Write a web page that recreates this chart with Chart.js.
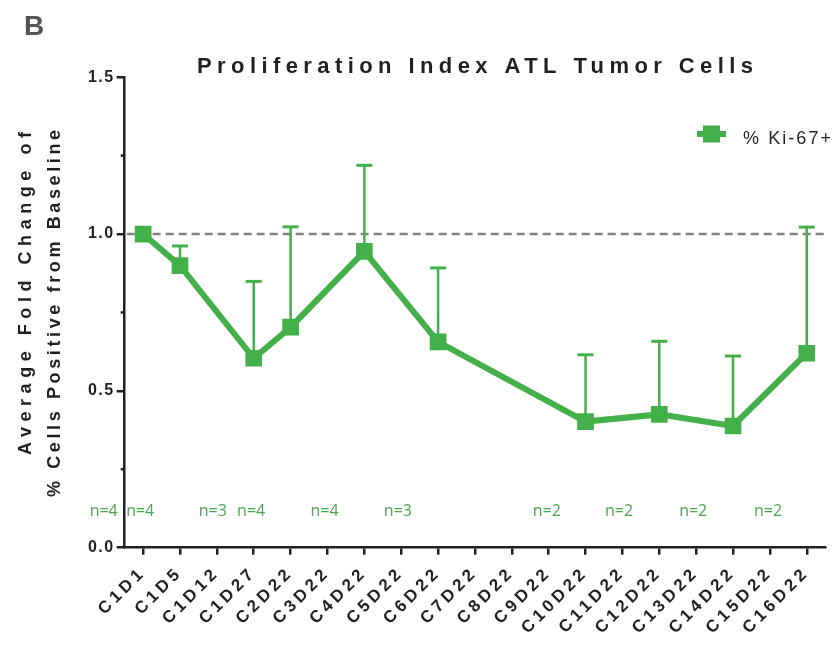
<!DOCTYPE html>
<html><head><meta charset="utf-8">
<script src="https://cdn.jsdelivr.net/npm/chart.js@4.4.1/dist/chart.umd.min.js"></script>
<style>html,body{margin:0;padding:0;background:#fff;} canvas{display:block;}</style>
</head><body>
<canvas id="c" width="837" height="646"></canvas>
<script>
const panelLetter = 'B';
const chartTitle = 'Proliferation Index ATL Tumor Cells';
const yTitleLines = ['Average Fold Change of', '% Cells Positive from Baseline'];
const seriesName = '% Ki-67+';
const categories = ['C1D1','C1D5','C1D12','C1D27','C2D22','C3D22','C4D22','C5D22','C6D22','C7D22','C8D22','C9D22','C10D22','C11D22','C12D22','C13D22','C14D22','C15D22','C16D22'];
const meanValues = [1.0, 0.899, null, 0.604, 0.703, null, 0.945, null, 0.656, null, null, null, 0.402, null, 0.425, null, 0.388, null, 0.620];
const errorValues = [0, 0.063, null, 0.245, 0.320, null, 0.274, null, 0.236, null, null, null, 0.213, null, 0.233, null, 0.223, null, 0.402];
const yTickValues = [0, 0.5, 1.0, 1.5];
const yMinorTickValues = [0.25, 0.75, 1.25];
const baselineValue = 1.0;
const nLabels = ['n=4','n=4','n=3','n=4','n=4','n=3','n=2','n=2','n=2','n=2'];
const nLabelPositions = [-1.07, -0.08, 1.89, 2.93, 4.92, 6.91, 10.95, 12.91, 14.92, 16.95];
const nLabelLevel = 0.1;

const GREEN = '#44b04a';
const NGREEN = '#4aa54e';
const INK = '#231f20';
const FONT = '"Liberation Sans", Arial, Helvetica, sans-serif';

function spacedText(ctx, text, x, y, font, targetWidth) {
  ctx.font = font;
  ctx.letterSpacing = '0px';
  const w = ctx.measureText(text).width;
  const n = [...text].length;
  const s = n > 1 ? (targetWidth - w) / (n - 1) : 0;
  ctx.letterSpacing = s + 'px';
  ctx.fillText(text, x, y);
  ctx.letterSpacing = '0px';
}

function patchSpacing(scale, sp) {
  if (scale._lsPatched) return;
  const orig = scale.drawLabels;
  scale.drawLabels = function (area) {
    const c = this.ctx;
    c.save();
    c.letterSpacing = sp;
    orig.call(this, area);
    c.restore();
  };
  scale._lsPatched = true;
}

const decor = {
  id: 'decor',
  afterLayout(chart) {
    patchSpacing(chart.scales.x, '4px');
    patchSpacing(chart.scales.y, '1.5px');
  },
  beforeDatasetsDraw(chart) {
    const ctx = chart.ctx, xs = chart.scales.x, ys = chart.scales.y, ca = chart.chartArea;
    ctx.save();
    const yb = ys.getPixelForValue(baselineValue);
    ctx.strokeStyle = '#808080';
    ctx.lineWidth = 2.5;
    ctx.setLineDash([8, 5]);
    ctx.beginPath();
    ctx.moveTo(ca.left + 2, yb);
    ctx.lineTo(ca.right, yb);
    ctx.stroke();
    ctx.setLineDash([]);
    ctx.strokeStyle = GREEN;
    for (let i = 0; i < meanValues.length; i++) {
      const m = meanValues[i], e = errorValues[i];
      if (m == null || !e) continue;
      const x = xs.getPixelForValue(i);
      const y0 = ys.getPixelForValue(m);
      const y1 = ys.getPixelForValue(m + e);
      ctx.lineWidth = 2.5;
      ctx.beginPath(); ctx.moveTo(x, y0); ctx.lineTo(x, y1); ctx.stroke();
      ctx.lineWidth = 3;
      ctx.beginPath(); ctx.moveTo(x - 8, y1); ctx.lineTo(x + 8, y1); ctx.stroke();
    }
    ctx.restore();
  },
  afterDraw(chart) {
    const ctx = chart.ctx, xs = chart.scales.x, ys = chart.scales.y, ca = chart.chartArea;
    ctx.save();
    ctx.strokeStyle = INK;
    ctx.lineWidth = 2.5;
    for (const v of yMinorTickValues) {
      const y = ys.getPixelForValue(v);
      ctx.beginPath(); ctx.moveTo(ca.left - 4, y); ctx.lineTo(ca.left, y); ctx.stroke();
    }
    ctx.textAlign = 'left';
    ctx.textBaseline = 'alphabetic';
    ctx.fillStyle = '#555555';
    ctx.font = 'bold 28px ' + FONT;
    ctx.fillText(panelLetter, 24, 35);
    ctx.fillStyle = INK;
    spacedText(ctx, chartTitle, 197, 73, 'bold 22px ' + FONT, 556);
    const yTitleSpecs = [{x: 31, start: 455, len: 323}, {x: 60, start: 497, len: 367}];
    yTitleLines.forEach((t, i) => {
      const sp = yTitleSpecs[i];
      ctx.save();
      ctx.translate(sp.x, sp.start);
      ctx.rotate(-Math.PI / 2);
      spacedText(ctx, t, 0, 0, 'bold 18px ' + FONT, sp.len);
      ctx.restore();
    });
    const ly = 134;
    ctx.strokeStyle = GREEN;
    ctx.lineWidth = 6;
    ctx.beginPath(); ctx.moveTo(697, ly); ctx.lineTo(726, ly); ctx.stroke();
    ctx.fillStyle = GREEN;
    ctx.fillRect(703, ly - 8.5, 17, 17);
    ctx.fillStyle = INK;
    spacedText(ctx, chart.data.datasets[0].label, 743, 144, '18px ' + FONT, 88);
    ctx.fillStyle = NGREEN;
    ctx.font = '16px "Open Sans", "Noto Sans", sans-serif';
    ctx.textAlign = 'center';
    const yn = ys.getPixelForValue(nLabelLevel);
    nLabels.forEach((t, i) => {
      ctx.fillText(t, xs.getPixelForValue(nLabelPositions[i]), yn);
    });
    ctx.restore();
  }
};

new Chart(document.getElementById('c'), {
  type: 'line',
  data: {
    labels: categories,
    datasets: [{
      label: seriesName,
      data: meanValues,
      borderColor: GREEN,
      backgroundColor: GREEN,
      borderWidth: 6,
      tension: 0,
      spanGaps: true,
      pointStyle: 'rect',
      pointRadius: 11.8,
      pointBorderWidth: 0,
      pointBackgroundColor: GREEN,
      fill: false
    }]
  },
  options: {
    responsive: false,
    devicePixelRatio: 1,
    animation: false,
    layout: { padding: { left: 0, top: 77.2, right: 5.7, bottom: 0 } },
    plugins: { legend: { display: false }, title: { display: false }, tooltip: { enabled: false } },
    scales: {
      x: {
        type: 'category',
        offset: true,
        grid: { drawOnChartArea: false, offset: false, tickLength: 7, color: INK, lineWidth: 2.5 },
        border: { display: true, color: INK, width: 2.5 },
        ticks: {
          autoSkip: false, minRotation: 45, maxRotation: 45, padding: 8,
          color: INK, font: { family: FONT, size: 17, weight: 'bold' }
        },
        afterFit: (s) => { s.height = 646 - 547.7; }
      },
      y: {
        min: 0, max: 1.5,
        grid: { drawOnChartArea: false, tickLength: 8, color: INK, lineWidth: 2.5 },
        border: { display: true, color: INK, width: 2.5 },
        ticks: {
          padding: 2, color: INK, font: { family: FONT, size: 16, weight: 'bold' },
          callback: (v) => Number(v).toFixed(1)
        },
        afterBuildTicks: (s) => { s.ticks = yTickValues.map(v => ({ value: v })); },
        afterFit: (s) => { s.width = 124.7; }
      }
    }
  },
  plugins: [decor]
});
</script>
</body></html>
